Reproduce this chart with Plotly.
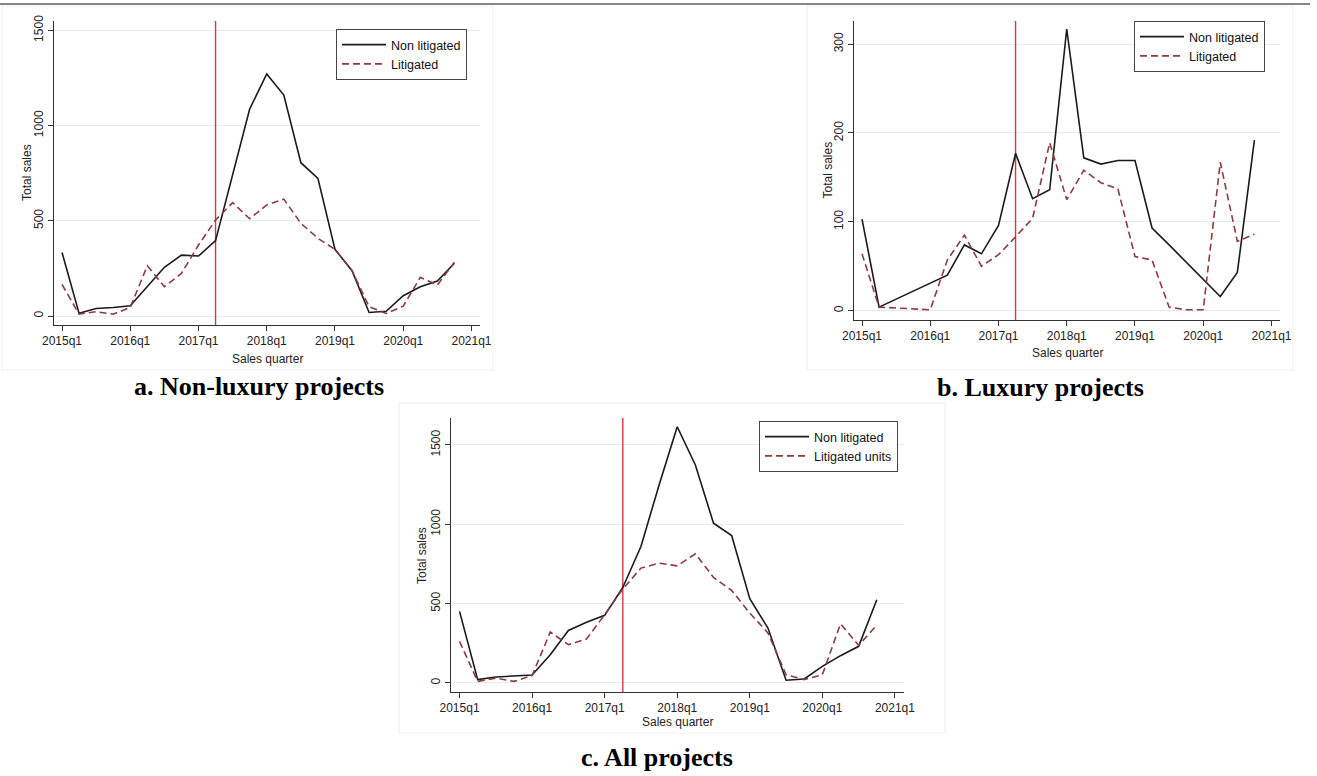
import plotly.graph_objects as go

quarters = ["2015q1", "2015q2", "2015q3", "2015q4", "2016q1", "2016q2", "2016q3", "2016q4",
            "2017q1", "2017q2", "2017q3", "2017q4", "2018q1", "2018q2", "2018q3", "2018q4",
            "2019q1", "2019q2", "2019q3", "2019q4", "2020q1", "2020q2", "2020q3", "2020q4"]
tick_labels = ["2015q1", "2016q1", "2017q1", "2018q1", "2019q1", "2020q1", "2021q1"]
event_quarter = "2017q2"

# a. Non-luxury projects
a_non = [334, 14, 40, 45, 54, 154, 256, 320, 315, 396, 740, 1087,
         1271, 1160, 805, 723, 350, 238, 19, 25, 107, 154, 184, 277]
a_lit = [166, 10, 23, 10, 45, 264, 154, 224, 373, 504, 595, 511,
         583, 614, 487, 408, 350, 238, 49, 14, 52, 203, 163, 282]
# b. Luxury projects
b_non = [103, 4, 13, 22, 31, 40, 74, 64, 96, 177, 126, 136,
         317, 172, 165, 169, 169, 93, 74, 55, 35, 16, 43, 192]
b_lit = [64, 4, 3, 2, 1, 57, 85, 50, 63, 83, 104, 189,
         125, 158, 144, 137, 61, 57, 4, 1, 1, 167, 78, 86]
# c. All projects
c_non = [451, 21, 38, 44, 50, 178, 331, 382, 426, 602, 860, 1248,
         1615, 1374, 1007, 929, 531, 346, 17, 25, 105, 172, 231, 524]
c_lit = [262, 10, 31, 10, 46, 321, 241, 277, 430, 592, 724, 755,
         738, 814, 665, 583, 441, 315, 52, 21, 52, 373, 237, 365]

W, H = 1317, 776
xq = list(range(len(quarters)))
tickvals = [i * 4 for i in range(len(tick_labels))]
vline_x = quarters.index(event_quarter)

BLACK = "#1a1a1a"
MAROON = "#8e3a3e"
VRED = "#d43548"
GRID = "#e3edef"
FONT = "Liberation Sans, Arial, sans-serif"
TXT = "#222222"

fig = go.Figure()

panels = [
    dict(sfx="", leg="legend", non=a_non, lit=a_lit, lit_name="Litigated",
         px=(54, 480), py=(21, 325), yr=[-47, 1549], ytv=[0, 500, 1000, 1500],
         legpos=(336, 29), ytitle_x=27, xtitle_y=359, frame=(2, 6, 493, 370)),
    dict(sfx="2", leg="legend2", non=b_non, lit=b_lit, lit_name="Litigated",
         px=(854, 1280), py=(21, 320), yr=[-10.5, 326], ytv=[0, 100, 200, 300],
         legpos=(1134, 21), ytitle_x=827, xtitle_y=353, frame=(807, 6, 1293, 370)),
    dict(sfx="3", leg="legend3", non=c_non, lit=c_lit, lit_name="Litigated units",
         px=(451, 904), py=(418, 692), yr=[-57, 1670], ytv=[0, 500, 1000, 1500],
         legpos=(759, 421), ytitle_x=422, xtitle_y=722, frame=(399, 403, 945, 733)),
]

layout = {}
shapes = []
annotations = []
for p in panels:
    xa = "x" + p["sfx"]
    ya = "y" + p["sfx"]
    # faint graph-region frame
    x0, y0, x1, y1 = p["frame"]
    shapes.append(dict(type="rect", xref="paper", yref="paper", x0=x0 / W, x1=x1 / W,
                       y0=1 - y1 / H, y1=1 - y0 / H, line=dict(color="#f0f0f0", width=1),
                       layer="below"))
    # event marker: vertical line at the event quarter spanning the y range
    fig.add_trace(go.Scatter(x=[vline_x, vline_x], y=p["yr"], mode="lines",
                             line=dict(color=VRED, width=1.4), xaxis=xa, yaxis=ya,
                             showlegend=False, hoverinfo="skip", legend=p["leg"]))
    fig.add_trace(go.Scatter(x=xq, y=p["non"], mode="lines", name="Non litigated",
                             line=dict(color=BLACK, width=1.6), xaxis=xa, yaxis=ya,
                             legend=p["leg"]))
    fig.add_trace(go.Scatter(x=xq, y=p["lit"], mode="lines", name=p["lit_name"],
                             line=dict(color=MAROON, width=1.6, dash="7px,4px"),
                             xaxis=xa, yaxis=ya, legend=p["leg"]))
    layout["xaxis" + p["sfx"]] = dict(
        domain=[p["px"][0] / W, p["px"][1] / W], anchor=ya, automargin=False,
        range=[-0.47, 24.5], tickvals=tickvals, ticktext=tick_labels,
        showgrid=False, zeroline=False, showline=True, linecolor="#333333", linewidth=1,
        ticks="outside", ticklen=5, tickcolor="#333333",
        tickfont=dict(family=FONT, size=12, color=TXT),
    )
    layout["yaxis" + p["sfx"]] = dict(
        domain=[1 - p["py"][1] / H, 1 - p["py"][0] / H], anchor=xa, automargin=False,
        range=p["yr"], tickvals=p["ytv"], tickangle=-90,
        showgrid=True, gridcolor=GRID, gridwidth=1, zeroline=False,
        showline=True, linecolor="#333333", linewidth=1,
        ticks="outside", ticklen=5, tickcolor="#333333",
        tickfont=dict(family=FONT, size=12, color=TXT),
    )
    layout[p["leg"]] = dict(
        x=p["legpos"][0] / W, y=1 - p["legpos"][1] / H, xanchor="left", yanchor="top",
        bgcolor="white", bordercolor="#444444", borderwidth=1,
        font=dict(family=FONT, size=12.5, color="#111111"),
        tracegroupgap=0, itemwidth=44,
    )
    # axis titles
    cx = (p["px"][0] + p["px"][1]) / 2
    cy = (p["py"][0] + p["py"][1]) / 2
    annotations.append(dict(text="Sales quarter", x=cx / W, y=1 - p["xtitle_y"] / H,
                            xref="paper", yref="paper", xanchor="center", yanchor="middle",
                            showarrow=False, font=dict(family=FONT, size=12, color=TXT)))
    annotations.append(dict(text="Total sales", x=p["ytitle_x"] / W, y=1 - cy / H,
                            xref="paper", yref="paper", xanchor="center", yanchor="middle",
                            textangle=-90, showarrow=False,
                            font=dict(family=FONT, size=12, color=TXT)))

# top rule
shapes.append(dict(type="line", xref="paper", yref="paper", x0=0, x1=1310 / W,
                   y0=1 - 4 / H, y1=1 - 4 / H, line=dict(color="#111111", width=1.2)))

captions = [("a. Non-luxury projects", 259, 386),
            ("b. Luxury projects", 1040, 387),
            ("c. All projects", 657, 757)]
for t, cx, cy in captions:
    annotations.append(dict(text="<b>%s</b>" % t, x=cx / W, y=1 - cy / H, xref="paper",
                            yref="paper", xanchor="center", yanchor="middle", showarrow=False,
                            font=dict(family="Liberation Serif, Times New Roman, serif",
                                      size=26, color="#000000")))

fig.update_layout(
    width=W, height=H, margin=dict(l=0, r=0, t=0, b=0),
    paper_bgcolor="white", plot_bgcolor="white",
    shapes=shapes, annotations=annotations, **layout,
)

fig.write_html("out.html", config={"displayModeBar": False},
               post_script="document.body.style.margin='0';document.body.style.overflow='hidden';")
